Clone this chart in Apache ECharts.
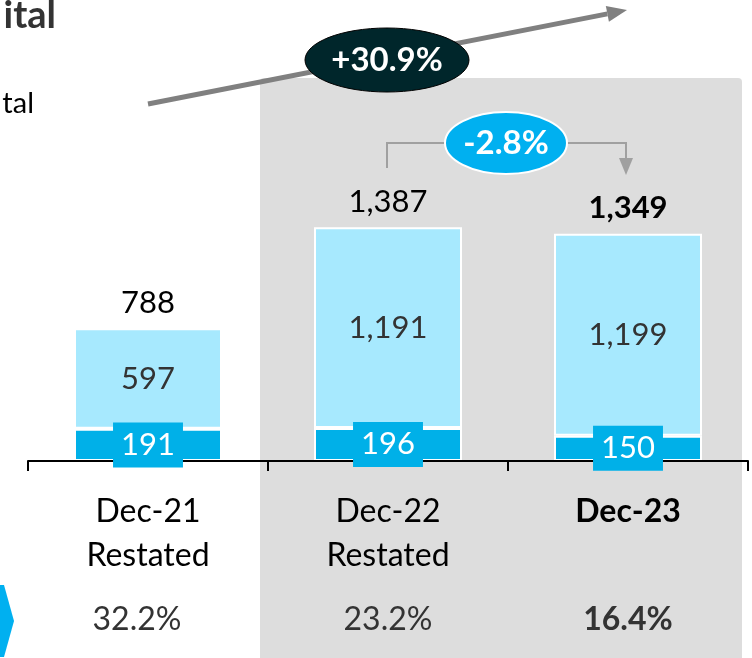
<!DOCTYPE html>
<html>
<head>
<meta charset="utf-8">
<script src="https://cdn.jsdelivr.net/npm/echarts@6/dist/echarts.min.js"></script>
<style>
  html, body { margin: 0; padding: 0; background: #fff; }
  #chart { width: 752px; height: 658px; }
</style>
</head>
<body>
<div id="chart"></div>
<script>
// Period labels and the stacked components (EUR m)
const categories = ['Dec-21\nRestated', 'Dec-22\nRestated', 'Dec-23'];
const baseValues = [191, 196, 150];
const upperValues = [597, 1191, 1199];
const totals = [788, 1387, 1349];
const ratioLabels = ['32.2%', '23.2%', '16.4%'];
const growthLabel = '+30.9%';
const changeLabel = '-2.8%';

const FONT = 'Lato';
const DARK_BLUE = '#00B0E8';
const LIGHT_BLUE = '#A7E9FE';
const GREY_LINE = '#808080';

const fmt = v => v.toLocaleString('en-US');
const lastIdx = categories.length - 1;

const chart = echarts.init(document.getElementById('chart'), null, { renderer: 'canvas' });

// Arrow geometry for the long growth arrow
const arrowTip = [627, 10], arrowStart = [148, 104];
const dx = arrowTip[0] - arrowStart[0], dy = arrowTip[1] - arrowStart[1];
const len = Math.hypot(dx, dy), ux = dx / len, uy = dy / len;
const headLen = 20, headHalf = 8;
const baseC = [arrowTip[0] - ux * headLen, arrowTip[1] - uy * headLen];

chart.setOption({
  animation: false,
  textStyle: { fontFamily: FONT },
  grid: { left: 28, right: 4, top: 124, bottom: 197, containLabel: false },
  xAxis: [
    {
      type: 'category',
      data: categories,
      z: 3,
      axisLine: { lineStyle: { color: '#000', width: 2 } },
      axisTick: { show: true, length: 10, lineStyle: { color: '#000', width: 2 } },
      axisLabel: {
        margin: 29,
        fontFamily: FONT,
        fontSize: 32,
        lineHeight: 44,
        color: '#000',
        verticalAlign: 'top',
        formatter: (v, i) => i === lastIdx ? '{b|' + v + '}' : v,
        rich: { b: { fontFamily: FONT, fontSize: 32, lineHeight: 44, fontWeight: 'bold', color: '#000' } }
      }
    },
    {
      type: 'category',
      data: ratioLabels,
      position: 'bottom',
      offset: 0,
      axisLine: { show: false },
      axisTick: { show: false },
      axisLabel: {
        margin: 141,
        fontFamily: FONT,
        fontSize: 32,
        lineHeight: 36,
        color: '#333',
        verticalAlign: 'top',
        formatter: (v, i) => i === lastIdx ? '{b|' + v + '}' : (i === 0 ? '{s|' + v + '}' : v),
        rich: {
          b: { fontFamily: FONT, fontSize: 32, lineHeight: 36, fontWeight: 'bold', color: '#333' },
          s: { fontFamily: FONT, fontSize: 32, lineHeight: 36, color: '#333', padding: [0, 22, 0, 0] }
        }
      }
    }
  ],
  yAxis: { type: 'value', min: 0, max: 2000, show: false },
  series: [
    {
      name: 'base',
      type: 'bar',
      stack: 'total',
      data: baseValues,
      barWidth: 148,
      barGap: '-100%',
      z: 2,
      itemStyle: { color: DARK_BLUE, borderColor: '#fff', borderWidth: 2 }
    },
    {
      name: 'upper',
      type: 'bar',
      stack: 'total',
      data: upperValues,
      barWidth: 148,
      barGap: '-100%',
      z: 2,
      itemStyle: { color: LIGHT_BLUE, borderColor: '#fff', borderWidth: 2 },
      label: {
        show: true,
        position: 'inside',
        fontFamily: FONT,
        fontSize: 31,
        color: '#333',
        formatter: p => fmt(p.value)
      }
    },
    {
      name: 'totalLabel',
      type: 'bar',
      data: totals,
      barWidth: 148,
      barGap: '-100%',
      z: 1,
      itemStyle: { color: 'rgba(0,0,0,0)' },
      label: {
        show: true,
        position: 'top',
        distance: 10,
        fontFamily: FONT,
        fontSize: 31,
        color: '#000',
        formatter: p => p.dataIndex === lastIdx ? '{b|' + fmt(p.value) + '}' : fmt(p.value),
        rich: { b: { fontFamily: FONT, fontSize: 31, fontWeight: 'bold', color: '#000' } }
      }
    },
    {
      name: 'baseTag',
      type: 'bar',
      data: baseValues,
      barWidth: 148,
      barGap: '-100%',
      z: 10,
      itemStyle: { color: 'rgba(0,0,0,0)' },
      label: {
        show: true,
        position: 'inside',
        fontFamily: FONT,
        fontSize: 31,
        lineHeight: 33,
        color: '#fff',
        backgroundColor: DARK_BLUE,
        padding: [6, 8, 6, 8],
        formatter: p => fmt(p.value)
      }
    }
  ],
  graphic: [
    // shaded panel behind the two latest periods
    {
      type: 'rect', z: -1, silent: true,
      shape: { x: 260, y: 78, width: 482, height: 590, r: 4 },
      style: { fill: '#DDDDDD' }
    },
    // cropped heading fragments
    {
      type: 'text', z: 5, x: 56, y: 35,
      style: { text: 'ital', font: 'bold 38px ' + FONT, fill: '#333', align: 'right', verticalAlign: 'bottom' }
    },
    {
      type: 'text', z: 5, x: 34, y: 118,
      style: { text: 'tal', font: '29px ' + FONT, fill: '#000', align: 'right', verticalAlign: 'bottom' }
    },
    // chevron marker for the ratio row
    {
      type: 'polygon', z: 5,
      shape: { points: [[0, 585], [4, 585], [14, 621], [4, 657], [0, 657]] },
      style: { fill: '#00B0F0' }
    },
    // long growth arrow
    {
      type: 'line', z: 5,
      shape: { x1: arrowStart[0], y1: arrowStart[1], x2: baseC[0], y2: baseC[1] },
      style: { stroke: GREY_LINE, lineWidth: 5 }
    },
    {
      type: 'polygon', z: 5,
      shape: { points: [
        arrowTip,
        [baseC[0] - uy * headHalf, baseC[1] + ux * headHalf],
        [baseC[0] + uy * headHalf, baseC[1] - ux * headHalf]
      ] },
      style: { fill: GREY_LINE }
    },
    {
      type: 'ellipse', z: 6,
      shape: { cx: 387, cy: 60, rx: 82, ry: 32 },
      style: { fill: '#00262B', stroke: '#000', lineWidth: 1 }
    },
    {
      type: 'text', z: 7, x: 387, y: 60,
      style: { text: growthLabel, font: 'bold 33px ' + FONT, fill: '#fff', align: 'center', verticalAlign: 'middle' }
    },
    // year-on-year bracket
    {
      type: 'polyline', z: 5,
      shape: { points: [[387, 168], [387, 143], [626, 143], [626, 160]] },
      style: { stroke: '#A0A0A0', lineWidth: 2, fill: null }
    },
    {
      type: 'polygon', z: 5,
      shape: { points: [[619, 158], [633, 158], [626, 175]] },
      style: { fill: '#A0A0A0' }
    },
    {
      type: 'ellipse', z: 6,
      shape: { cx: 506, cy: 143, rx: 61, ry: 31 },
      style: { fill: '#00B0F0', stroke: '#fff', lineWidth: 2 }
    },
    {
      type: 'text', z: 7, x: 506, y: 143,
      style: { text: changeLabel, font: 'bold 33px ' + FONT, fill: '#fff', align: 'center', verticalAlign: 'middle' }
    }
  ]
});
</script>
</body>
</html>
